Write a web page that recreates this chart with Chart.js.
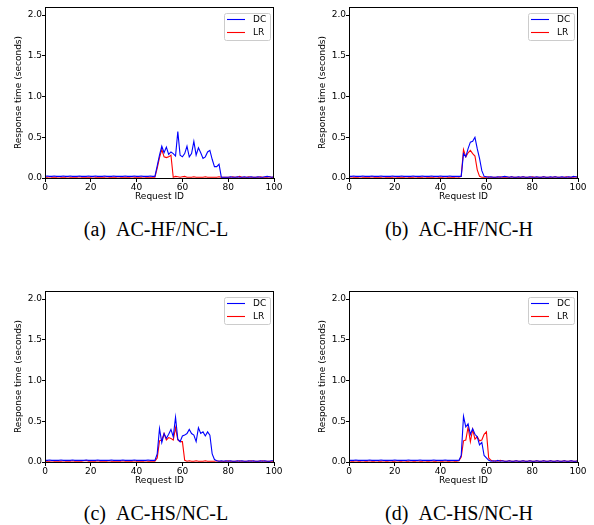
<!DOCTYPE html>
<html>
<head>
<meta charset="utf-8">
<title>Response time</title>
<script src="https://cdn.jsdelivr.net/npm/chart.js@4.4.0/dist/chart.umd.min.js"></script>
<style>
  body { margin: 0; background: #fff; }
  .panel { position: absolute; }
  .cap { position: absolute; font-family: "Liberation Serif", "Times New Roman", serif; font-size: 20px; line-height: 20px; text-align: center; color: #000; white-space: nowrap; }
  .cap span { margin-left: 10px; }
</style>
</head>
<body>

<canvas id="chartA" class="panel" width="297" height="205" style="left:0px;top:0px"></canvas>
<canvas id="chartB" class="panel" width="297" height="205" style="left:304px;top:0px"></canvas>
<canvas id="chartC" class="panel" width="297" height="205" style="left:0px;top:284px"></canvas>
<canvas id="chartD" class="panel" width="297" height="205" style="left:304px;top:284px"></canvas>

<div class="cap" style="left:0px;top:219px;width:312px">(a)<span>AC-HF/NC-L</span></div>
<div class="cap" style="left:304px;top:219px;width:310px">(b)<span>AC-HF/NC-H</span></div>
<div class="cap" style="left:0px;top:503px;width:312px">(c)<span>AC-HS/NC-L</span></div>
<div class="cap" style="left:304px;top:503px;width:310px">(d)<span>AC-HS/NC-H</span></div>

<script>
// tick labels
var xTicks = [0, 20, 40, 60, 80, 100];
var yTicks = [0, 0.5, 1.0, 1.5, 2.0];

// response time per request id 0..100
// (a) AC-HF/NC-L
var dcA = [0.020,0.025,0.020,0.020,0.025,0.020,0.020,0.020,0.025,0.020,
           0.020,0.025,0.020,0.020,0.020,0.025,0.020,0.020,0.020,0.025,
           0.020,0.020,0.025,0.020,0.020,0.020,0.025,0.020,0.020,0.020,
           0.025,0.020,0.020,0.020,0.020,0.025,0.020,0.020,0.020,0.025,
           0.020,0.020,0.025,0.020,0.020,0.020,0.025,0.020,0.020,0.150,
           0.280,0.390,0.310,0.380,0.290,0.320,0.300,0.270,0.570,0.280,
           0.260,0.300,0.390,0.260,0.300,0.450,0.280,0.370,0.310,0.240,
           0.260,0.320,0.340,0.230,0.140,0.140,0.170,0.010,0.010,0.010,
           0.010,0.015,0.010,0.010,0.015,0.010,0.010,0.015,0.010,0.010,
           0.015,0.010,0.010,0.015,0.010,0.010,0.015,0.020,0.015,0.010,
           0.015];
var lrA = [0.010,0.010,0.015,0.010,0.010,0.010,0.015,0.010,0.010,0.010,
           0.015,0.010,0.010,0.010,0.010,0.015,0.010,0.010,0.010,0.010,
           0.010,0.015,0.010,0.010,0.010,0.010,0.010,0.015,0.010,0.010,
           0.010,0.010,0.015,0.010,0.010,0.010,0.010,0.010,0.015,0.010,
           0.010,0.010,0.010,0.015,0.010,0.010,0.010,0.010,0.010,0.120,
           0.250,0.350,0.260,0.250,0.260,0.280,0.010,0.020,0.015,0.010,
           0.015,0.020,0.010,0.010,0.010,0.015,0.010,0.010,0.010,0.010,
           0.015,0.010,0.010,0.010,0.010,0.010,0.015,0.010,0.010,0.010,
           0.010,0.010,0.015,0.010,0.010,0.020,0.010,0.010,0.010,0.015,
           0.010,0.010,0.010,0.010,0.015,0.010,0.010,0.010,0.015,0.010,
           0.010];

// (b) AC-HF/NC-H
var dcB = [0.020,0.020,0.025,0.020,0.020,0.020,0.025,0.020,0.020,0.020,
           0.025,0.020,0.020,0.020,0.025,0.020,0.020,0.020,0.020,0.025,
           0.020,0.020,0.020,0.025,0.020,0.020,0.020,0.020,0.025,0.020,
           0.020,0.020,0.025,0.020,0.020,0.020,0.025,0.020,0.020,0.020,
           0.025,0.020,0.020,0.020,0.025,0.020,0.020,0.020,0.020,0.020,
           0.300,0.260,0.360,0.440,0.450,0.500,0.360,0.240,0.090,0.020,
           0.015,0.010,0.015,0.010,0.010,0.015,0.010,0.015,0.020,0.015,
           0.010,0.015,0.010,0.010,0.015,0.010,0.015,0.010,0.010,0.015,
           0.010,0.010,0.015,0.010,0.010,0.015,0.010,0.010,0.015,0.010,
           0.015,0.010,0.010,0.015,0.010,0.010,0.015,0.010,0.020,0.015,
           0.010];
var lrB = [0.010,0.015,0.010,0.010,0.010,0.015,0.010,0.010,0.010,0.010,
           0.015,0.010,0.010,0.010,0.010,0.015,0.010,0.010,0.010,0.010,
           0.015,0.010,0.010,0.010,0.010,0.015,0.010,0.010,0.010,0.015,
           0.010,0.010,0.010,0.015,0.010,0.010,0.010,0.010,0.015,0.010,
           0.010,0.010,0.015,0.010,0.010,0.010,0.010,0.015,0.010,0.020,
           0.350,0.260,0.310,0.340,0.300,0.270,0.100,0.020,0.010,0.010,
           0.010,0.015,0.010,0.010,0.010,0.010,0.015,0.010,0.010,0.010,
           0.010,0.015,0.010,0.010,0.010,0.010,0.015,0.010,0.010,0.010,
           0.015,0.010,0.010,0.010,0.010,0.015,0.010,0.010,0.010,0.010,
           0.015,0.010,0.010,0.010,0.010,0.015,0.010,0.010,0.010,0.015,
           0.010];

// (c) AC-HS/NC-L
var dcC = [0.020,0.020,0.025,0.020,0.020,0.020,0.020,0.025,0.020,0.020,
           0.020,0.020,0.025,0.020,0.020,0.020,0.020,0.020,0.025,0.020,
           0.020,0.020,0.020,0.025,0.020,0.020,0.020,0.020,0.020,0.025,
           0.020,0.020,0.020,0.020,0.025,0.020,0.020,0.020,0.020,0.025,
           0.020,0.020,0.020,0.020,0.020,0.025,0.020,0.020,0.020,0.100,
           0.410,0.240,0.350,0.290,0.340,0.400,0.310,0.550,0.280,0.250,
           0.320,0.330,0.350,0.400,0.350,0.330,0.250,0.420,0.350,0.370,
           0.320,0.370,0.330,0.100,0.030,0.015,0.010,0.015,0.010,0.015,
           0.010,0.015,0.010,0.010,0.015,0.010,0.015,0.010,0.010,0.015,
           0.010,0.015,0.010,0.010,0.015,0.010,0.015,0.010,0.010,0.015,
           0.015];
var lrC = [0.010,0.010,0.010,0.015,0.010,0.010,0.010,0.010,0.015,0.010,
           0.010,0.010,0.015,0.010,0.010,0.010,0.010,0.015,0.020,0.010,
           0.010,0.010,0.010,0.015,0.010,0.010,0.010,0.010,0.015,0.010,
           0.010,0.010,0.010,0.010,0.015,0.010,0.010,0.010,0.010,0.015,
           0.010,0.010,0.010,0.010,0.015,0.010,0.010,0.010,0.010,0.050,
           0.260,0.270,0.350,0.270,0.300,0.290,0.270,0.420,0.270,0.250,
           0.250,0.020,0.010,0.015,0.010,0.010,0.015,0.010,0.010,0.010,
           0.015,0.010,0.010,0.010,0.010,0.015,0.010,0.010,0.010,0.010,
           0.015,0.010,0.010,0.010,0.010,0.015,0.010,0.010,0.010,0.010,
           0.015,0.010,0.010,0.010,0.010,0.015,0.010,0.010,0.010,0.010,
           0.010];

// (d) AC-HS/NC-H
var dcD = [0.020,0.020,0.020,0.025,0.020,0.020,0.020,0.020,0.020,0.025,
           0.020,0.020,0.020,0.020,0.025,0.020,0.020,0.020,0.020,0.020,
           0.025,0.020,0.020,0.020,0.020,0.020,0.025,0.020,0.020,0.020,
           0.020,0.025,0.020,0.020,0.020,0.020,0.020,0.025,0.020,0.020,
           0.020,0.020,0.025,0.020,0.020,0.020,0.020,0.020,0.020,0.080,
           0.560,0.430,0.470,0.340,0.410,0.340,0.310,0.210,0.240,0.080,
           0.050,0.020,0.010,0.015,0.010,0.020,0.010,0.015,0.010,0.010,
           0.015,0.010,0.010,0.015,0.010,0.010,0.015,0.010,0.010,0.015,
           0.010,0.010,0.015,0.010,0.010,0.015,0.010,0.010,0.015,0.010,
           0.010,0.015,0.010,0.010,0.015,0.010,0.010,0.015,0.010,0.010,
           0.015];
var lrD = [0.015,0.010,0.010,0.015,0.010,0.010,0.015,0.010,0.010,0.015,
           0.010,0.010,0.015,0.010,0.010,0.015,0.010,0.010,0.015,0.010,
           0.010,0.015,0.010,0.010,0.015,0.010,0.010,0.015,0.010,0.010,
           0.015,0.010,0.010,0.015,0.010,0.010,0.015,0.010,0.010,0.015,
           0.010,0.010,0.015,0.010,0.010,0.015,0.010,0.010,0.015,0.060,
           0.260,0.270,0.430,0.250,0.400,0.280,0.310,0.260,0.270,0.340,
           0.370,0.050,0.020,0.010,0.015,0.010,0.020,0.015,0.010,0.010,
           0.015,0.010,0.010,0.015,0.010,0.010,0.015,0.010,0.010,0.015,
           0.010,0.010,0.015,0.010,0.010,0.015,0.010,0.010,0.015,0.010,
           0.010,0.015,0.010,0.010,0.015,0.010,0.010,0.015,0.010,0.010,
           0.015];

var tickFont = { family: "'DejaVu Sans', sans-serif", size: 9 };

// black box round the plot area, like the matplotlib spines
var frame = {
  id: 'frame',
  afterDraw: function (chart) {
    var a = chart.chartArea, ctx = chart.ctx;
    ctx.save();
    ctx.strokeStyle = '#000';
    ctx.lineWidth = 1;
    ctx.strokeRect(a.left + 0.5, a.top + 0.5, a.right - a.left - 1, a.bottom - a.top);
    ctx.restore();
  }
};

// legend drawn inside the upper right corner
var boxLegend = {
  id: 'boxLegend',
  afterDraw: function (chart) {
    var a = chart.chartArea, ctx = chart.ctx;
    var w = 46, h = 27, x = a.right - 4 - w, y = a.top + 5.5;
    ctx.save();
    ctx.fillStyle = 'rgba(255,255,255,0.8)';
    ctx.strokeStyle = '#cccccc';
    ctx.lineWidth = 1;
    ctx.beginPath();
    ctx.roundRect(Math.round(x) + 0.5, Math.round(y) + 0.5, w, h, 2);
    ctx.fill();
    ctx.stroke();
    ctx.font = "9px 'DejaVu Sans'";
    ctx.textBaseline = 'middle';
    chart.data.datasets.forEach(function (ds, i) {
      var ly = Math.round(y + 6.5 + i * 13.3) + 0.5;
      ctx.strokeStyle = ds.borderColor;
      ctx.lineWidth = ds.borderWidth;
      ctx.beginPath();
      ctx.moveTo(x + 3, ly);
      ctx.lineTo(x + 21, ly);
      ctx.stroke();
      ctx.fillStyle = '#000';
      ctx.fillText(ds.label, x + 29, ly);
    });
    ctx.restore();
  }
};

function toPoints(values) {
  return values.map(function (v, i) { return { x: i, y: v }; });
}

function makeChart(id, dc, lr) {
  return new Chart(document.getElementById(id), {
    type: 'line',
    data: {
      datasets: [
        { label: 'DC', data: toPoints(dc), borderColor: '#0000ff', borderWidth: 1.1, pointRadius: 0, tension: 0 },
        { label: 'LR', data: toPoints(lr), borderColor: '#ff0000', borderWidth: 1.1, pointRadius: 0, tension: 0 }
      ]
    },
    options: {
      responsive: false,
      animation: false,
      events: [],
      layout: { padding: { top: 7, right: 23, left: 0, bottom: 0 } },
      plugins: { legend: { display: false }, tooltip: { enabled: false } },
      scales: {
        x: {
          type: 'linear', min: 0, max: 100,
          border: { display: false },
          grid: { drawOnChartArea: false, tickLength: 4, tickColor: '#000' },
          ticks: { color: '#000', font: tickFont, padding: 0, maxRotation: 0, autoSkip: false },
          title: { display: true, text: 'Request ID', color: '#000', font: tickFont, padding: { top: 0, bottom: 2.6 } },
          afterBuildTicks: function (s) { s.ticks = xTicks.map(function (v) { return { value: v }; }); },
          afterFit: function (s) { s.height = 27; }
        },
        y: {
          min: 0, max: 2.1,
          border: { display: false },
          grid: { drawOnChartArea: false, tickLength: 3, tickColor: '#000' },
          ticks: { color: '#000', font: tickFont, padding: 0, callback: function (v) { return v.toFixed(1); } },
          title: { display: true, text: 'Response time (seconds)', color: '#000', font: tickFont, padding: { top: 13.5, bottom: 0 } },
          afterBuildTicks: function (s) { s.ticks = yTicks.map(function (v) { return { value: v }; }); },
          afterFit: function (s) { s.width = 45; }
        }
      }
    },
    plugins: [frame, boxLegend]
  });
}

makeChart('chartA', dcA, lrA);
makeChart('chartB', dcB, lrB);
makeChart('chartC', dcC, lrC);
makeChart('chartD', dcD, lrD);
</script>
</body>
</html>
